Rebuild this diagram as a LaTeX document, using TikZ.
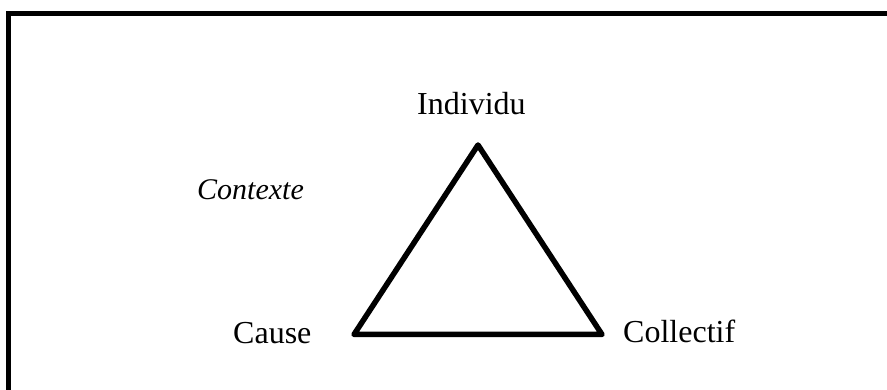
\documentclass[tikz,border=0pt]{standalone}
\usepackage{fontspec}
\setmainfont{Liberation Serif}
\begin{document}
\begin{tikzpicture}[x=1pt,y=1pt,
  lbl/.style={anchor=base west,inner sep=0pt,font=\fontsize{32}{36}\selectfont},
  frame/.style={line width=5pt},
  tri/.style={line width=5.5pt,line join=round}]
\useasboundingbox (0,0) rectangle (887,390);
\draw[frame] (8.5,-5) -- (8.5,376.5) -- (895,376.5);
\coordinate (top) at (478,245);
\coordinate (bl) at (354,55.5);
\coordinate (br) at (602,55.5);
\draw[tri] (top) -- (bl) -- (br) -- cycle;
\node[lbl] (ind) at (417,275) {Individu};
\node[lbl,font=\fontsize{30}{34}\itshape] (ctx) at (197,190) {Contexte};
\node[lbl] (cause) at (233,46) {Cause};
\node[lbl] (coll) at (623,47) {Collectif};
\end{tikzpicture}
\end{document}
